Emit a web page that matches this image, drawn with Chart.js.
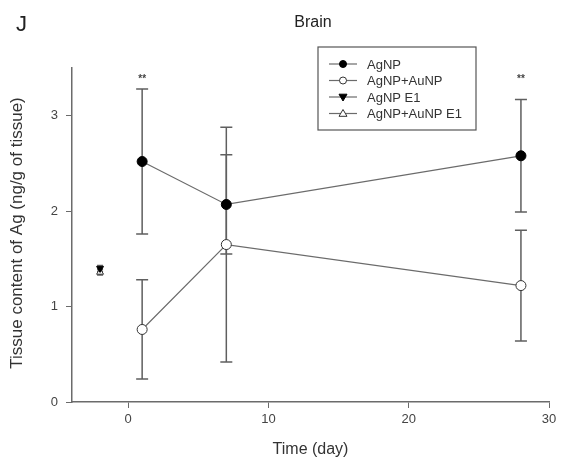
<!DOCTYPE html>
<html>
<head>
<meta charset="utf-8">
<script src="https://cdn.jsdelivr.net/npm/chart.js@4"></script>
<style>
  html, body { margin: 0; padding: 0; background: #fff; }
  #wrap { width: 563px; height: 463px; }
</style>
</head>
<body>
<div id="wrap"><canvas id="grafico" width="563" height="463"></canvas></div>
<script>
// datos
const days = [1, 7, 28];
const agnp = [2.52, 2.07, 2.58];
const agnpErr = [0.76, 0.52, 0.59];
const agnpAunp = [0.76, 1.65, 1.22];
const agnpAunpErr = [0.52, 1.23, 0.58];
const e1Day = [-2];
const agnpE1 = [1.4];
const agnpE1Err = [0.03];
const agnpAunpE1 = [1.36];
const agnpAunpE1Err = [0.03];
const starDays = [1, 28];
const starLevel = [3.4, 3.4];
const xTicks = [0, 10, 20, 30];
const yTicks = [0, 1, 2, 3];
const labels = ["AgNP", "AgNP+AuNP", "AgNP E1", "AgNP+AuNP E1"];

const FONT = "'Liberation Sans', Arial, sans-serif";
const GRIS = "#6b6b6b";

const pts = (xs, ys) => xs.map((x, i) => ({ x: x, y: ys[i] }));

const datasets = [
  { label: labels[0], data: pts(days, agnp), err: agnpErr, showLine: true,
    borderColor: GRIS, borderWidth: 1.2, pointStyle: "circle", pointRadius: 5,
    pointBackgroundColor: "#000", pointBorderColor: "#000", pointBorderWidth: 1 },
  { label: labels[1], data: pts(days, agnpAunp), err: agnpAunpErr, showLine: true,
    borderColor: GRIS, borderWidth: 1.2, pointStyle: "circle", pointRadius: 5,
    pointBackgroundColor: "#fff", pointBorderColor: "#333", pointBorderWidth: 1 },
  { label: labels[2], data: pts(e1Day, agnpE1), err: agnpE1Err, showLine: false,
    borderColor: GRIS, borderWidth: 1.2, pointStyle: "triangle", pointRotation: 180, pointRadius: 4,
    pointBackgroundColor: "#000", pointBorderColor: "#000", pointBorderWidth: 1 },
  { label: labels[3], data: pts(e1Day, agnpAunpE1), err: agnpAunpE1Err, showLine: false,
    borderColor: GRIS, borderWidth: 1.2, pointStyle: "triangle", pointRadius: 4,
    pointBackgroundColor: "#fff", pointBorderColor: "#333", pointBorderWidth: 1 }
];

// barras de error
const errorBars = {
  id: "errorBars",
  beforeDatasetsDraw(chart) {
    const ctx = chart.ctx, xs = chart.scales.x, ys = chart.scales.y;
    ctx.save();
    ctx.strokeStyle = "#5f5f5f";
    ctx.lineWidth = 1.5;
    chart.data.datasets.forEach(ds => {
      const cap = ds.showLine ? 6 : 3;
      ds.data.forEach((p, i) => {
        const e = ds.err[i];
        const px = xs.getPixelForValue(p.x);
        const top = ys.getPixelForValue(p.y + e);
        const bot = ys.getPixelForValue(p.y - e);
        ctx.beginPath();
        ctx.moveTo(px, top); ctx.lineTo(px, bot);
        ctx.moveTo(px - cap, top); ctx.lineTo(px + cap, top);
        ctx.moveTo(px - cap, bot); ctx.lineTo(px + cap, bot);
        ctx.stroke();
      });
    });
    ctx.restore();
  }
};

// textos, asteriscos y leyenda
const extras = {
  id: "extras",
  afterDraw(chart) {
    const ctx = chart.ctx, xs = chart.scales.x, ys = chart.scales.y;
    ctx.save();
    ctx.fillStyle = "#222";
    ctx.font = "22px " + FONT;
    ctx.textAlign = "left";
    ctx.textBaseline = "alphabetic";
    ctx.fillText("J", 16, 31);
    ctx.font = "16px " + FONT;
    ctx.textAlign = "center";
    ctx.fillText("Brain", 313, 27);

    ctx.font = "bold 10px " + FONT;
    ctx.fillStyle = "#444";
    starDays.forEach((d, i) => {
      ctx.fillText("**", xs.getPixelForValue(d), ys.getPixelForValue(starLevel[i]) + 4);
    });

    // eje y: titulo
    ctx.save();
    ctx.translate(17, 233);
    ctx.rotate(-Math.PI / 2);
    ctx.font = "17px " + FONT;
    ctx.fillStyle = "#333";
    ctx.textAlign = "center";
    ctx.textBaseline = "middle";
    ctx.fillText("Tissue content of Ag (ng/g of tissue)", 0, 0);
    ctx.restore();

    // leyenda
    const bx = 318, by = 47, bw = 158, bh = 83;
    ctx.strokeStyle = "#555";
    ctx.lineWidth = 1.2;
    ctx.strokeRect(bx, by, bw, bh);
    ctx.font = "13px " + FONT;
    ctx.textAlign = "left";
    ctx.textBaseline = "middle";
    chart.data.datasets.forEach((ds, i) => {
      const yy = by + 17 + i * 16.5;
      ctx.strokeStyle = GRIS;
      ctx.lineWidth = 1.2;
      ctx.beginPath();
      ctx.moveTo(bx + 11, yy); ctx.lineTo(bx + 39, yy);
      ctx.stroke();
      ctx.fillStyle = ds.pointBackgroundColor;
      ctx.strokeStyle = ds.pointBorderColor;
      ctx.lineWidth = 1;
      ctx.beginPath();
      if (ds.pointStyle === "circle") {
        ctx.arc(bx + 25, yy, 3.5, 0, Math.PI * 2);
      } else {
        const r = 4, dir = ds.pointRotation ? 1 : -1;
        ctx.moveTo(bx + 25, yy + dir * r);
        ctx.lineTo(bx + 25 - r, yy - dir * r * 0.7);
        ctx.lineTo(bx + 25 + r, yy - dir * r * 0.7);
        ctx.closePath();
      }
      ctx.fill(); ctx.stroke();
      ctx.fillStyle = "#333";
      ctx.fillText(ds.label, bx + 49, yy + 1);
    });
    ctx.restore();
  }
};

new Chart(document.getElementById("grafico").getContext("2d"), {
  type: "scatter",
  data: { datasets: datasets },
  options: {
    responsive: false,
    animation: false,
    layout: { padding: { left: 0, right: 14, top: 68, bottom: 0 } },
    plugins: { legend: { display: false }, title: { display: false }, tooltip: { enabled: false } },
    scales: {
      x: {
        type: "linear", min: -4, max: 30,
        afterFit: s => { s.height = 61; },
        afterBuildTicks: s => { s.ticks = xTicks.map(v => ({ value: v })); },
        grid: { display: true, drawOnChartArea: false, drawTicks: true, tickLength: 6, color: GRIS },
        border: { display: true, color: GRIS, width: 1.5 },
        ticks: { color: "#444", font: { family: FONT, size: 13 }, padding: 4 },
        title: { display: true, text: "Time (day)", color: "#333", font: { family: FONT, size: 16 }, padding: { top: 6 } }
      },
      y: {
        type: "linear", min: 0, max: 3.5,
        afterFit: s => { s.width = 72; },
        afterBuildTicks: s => { s.ticks = yTicks.map(v => ({ value: v })); },
        grid: { display: true, drawOnChartArea: false, drawTicks: true, tickLength: 6, color: GRIS },
        border: { display: true, color: GRIS, width: 1.5 },
        ticks: { color: "#444", font: { family: FONT, size: 13 }, padding: 8 },
        title: { display: false }
      }
    }
  },
  plugins: [errorBars, extras]
});
</script>
</body>
</html>
